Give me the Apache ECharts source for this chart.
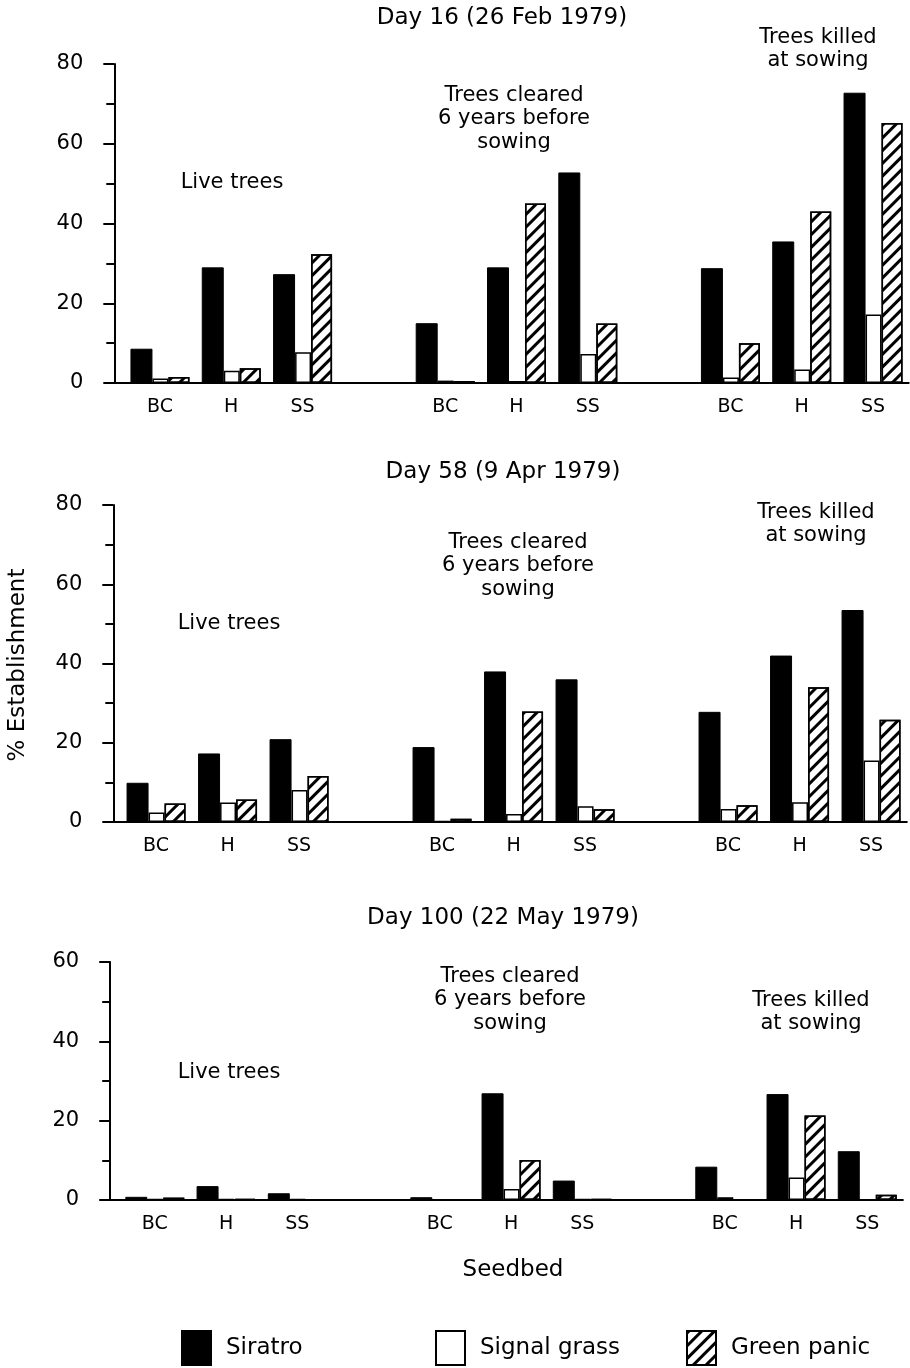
<!DOCTYPE html>
<html>
<head>
<meta charset="utf-8">
<title>% Establishment by seedbed</title>
<script src="https://cdn.jsdelivr.net/npm/echarts@6/dist/echarts.min.js"></script>
<style>
  html, body { margin: 0; padding: 0; background: #fff; }
  #chart { width: 910px; height: 1368px; }
</style>
</head>
<body>
<div id="chart"></div>
<script>
// seedbed categories; the empty slots separate the three tree treatments
const seedbeds = ["BC", "H", "SS", "", "BC", "H", "SS", "", "BC", "H", "SS"];
const speciesNames = ["Siratro", "Signal grass", "Green panic"];
const panelTitles = ["Day 16 (26 Feb 1979)", "Day 58 (9 Apr 1979)", "Day 100 (22 May 1979)"];
const yMax = [80, 80, 60];

// Day 16
const siratroDay16 = [8.6, 29, 27.3, null, 15, 29, 52.8, null, 28.8, 35.5, 72.8];
const signalDay16 = [1.1, 3.1, 7.7, null, 0.6, 0.5, 7.3, null, 1.4, 3.4, 17.2];
const greenDay16 = [1.5, 3.7, 32.3, null, 0.5, 45, 14.9, null, 10, 43, 65.2];

// Day 58
const siratroDay58 = [9.9, 17.3, 20.9, null, 18.9, 38, 36, null, 27.8, 42, 53.5];
const signalDay58 = [2.4, 4.9, 8.1, null, 0.3, 2, 4, null, 3.3, 5, 15.5];
const greenDay58 = [4.7, 5.7, 11.6, null, 0.8, 27.9, 3.2, null, 4.2, 34, 25.8];

// Day 100
const siratroDay100 = [0.8, 3.5, 1.7, null, 0.7, 26.9, 4.9, null, 8.4, 26.7, 12.3];
const signalDay100 = [0.3, 0.3, 0.2, null, 0, 2.8, 0.2, null, 0.7, 5.7, 0];
const greenDay100 = [0.6, 0.3, 0.1, null, 0, 10.1, 0.2, null, 0, 21.3, 1.3];

const panelData = [
  [siratroDay16, signalDay16, greenDay16],
  [siratroDay58, signalDay58, greenDay58],
  [siratroDay100, signalDay100, greenDay100],
];

const FONT = "DejaVu Sans";
const INK = "#000";

// pixel layout of the three panels
const panelGrids = [
  { left: 124.3, width: 784.4, top: 64, height: 319, axisOffset: 10 },
  { left: 120.3, width: 786.5, top: 505, height: 317, axisOffset: 7 },
  { left: 119.2, width: 783.7, top: 962, height: 238, axisOffset: 9 },
];

const hatch = {
  symbol: "rect",
  symbolSize: 1,
  dashArrayX: [1, 0],
  dashArrayY: [2.5, 5.5],
  rotation: -Math.PI / 4,
  color: INK,
};

const speciesStyles = [
  { barWidth: 22, itemStyle: { color: INK, borderColor: INK, borderWidth: 1 } },
  { barWidth: 16, itemStyle: { color: "#fff", borderColor: INK, borderWidth: 1.5 } },
  { barWidth: 21, itemStyle: { color: "#fff", borderColor: INK, borderWidth: 1.5, decal: hatch } },
];

const grid = [];
const xAxis = [];
const yAxis = [];
const series = [];

panelGrids.forEach((g, p) => {
  grid.push({
    left: g.left,
    width: g.width,
    top: g.top,
    height: g.height,
    containLabel: false,
    outerBoundsMode: "none",
  });
  // the baseline runs on to the y axis, which sits left of the first band
  const stub = g.axisOffset + 2;
  xAxis.push({
    type: "category",
    gridIndex: p,
    data: seedbeds,
    axisLine: {
      lineStyle: { color: INK, width: 2 },
      symbol: ["rect", "none"],
      symbolSize: [2, stub],
      symbolOffset: [-stub / 2, 0],
    },
    axisTick: { show: false },
    axisLabel: { color: INK, fontFamily: FONT, fontSize: 19, margin: 15, interval: 0 },
    splitLine: { show: false },
  });
  yAxis.push({
    type: "value",
    gridIndex: p,
    min: 0,
    max: yMax[p],
    interval: 20,
    offset: g.axisOffset,
    axisLine: { show: true, lineStyle: { color: INK, width: 2 } },
    axisTick: { show: true, length: 11, lineStyle: { color: INK, width: 2 } },
    minorTick: { show: true, splitNumber: 2, length: 8, lineStyle: { color: INK, width: 2 } },
    axisLabel: { color: INK, fontFamily: FONT, fontSize: 21, margin: 31 },
    splitLine: { show: false },
  });
  panelData[p].forEach((values, s) => {
    series.push({
      name: speciesNames[s],
      type: "bar",
      xAxisIndex: p,
      yAxisIndex: p,
      data: values,
      barWidth: speciesStyles[s].barWidth,
      barGap: "0%",
      itemStyle: speciesStyles[s].itemStyle,
      emphasis: { disabled: true },
    });
  });
});

function label(text, x, y, size, extra) {
  return Object.assign({
    type: "text",
    x: x,
    y: y,
    style: {
      text: text,
      font: size + "px '" + FONT + "'",
      fill: INK,
      align: "center",
      verticalAlign: "middle",
      lineHeight: 23.5,
    },
  }, extra || {});
}

const graphic = [
  label(panelTitles[0], 502, 18, 23),
  label(panelTitles[1], 503, 472, 23),
  label(panelTitles[2], 503, 918, 23),
  label("Live trees", 232, 183, 21),
  label("Live trees", 229, 624, 21),
  label("Live trees", 229, 1073, 21),
  label("Trees cleared\n6 years before\nsowing", 514, 119, 21),
  label("Trees cleared\n6 years before\nsowing", 518, 566, 21),
  label("Trees cleared\n6 years before\nsowing", 510, 1000, 21),
  label("Trees killed\nat sowing", 818, 49, 21),
  label("Trees killed\nat sowing", 816, 524, 21),
  label("Trees killed\nat sowing", 811, 1012, 21),
  label("Seedbed", 513, 1270, 23),
  label("% Establishment", 18, 665, 23, { rotation: Math.PI / 2 }),
];

function legendFor(name, left) {
  return {
    data: [name],
    left: left,
    top: 1325,
    icon: "rect",
    itemWidth: 29,
    itemHeight: 34,
    selectedMode: false,
    textStyle: { color: INK, fontFamily: FONT, fontSize: 23, padding: [0, 0, 0, 10] },
  };
}

const chart = echarts.init(document.getElementById("chart"), null, { renderer: "canvas" });
chart.setOption({
  backgroundColor: "#fff",
  animation: false,
  textStyle: { fontFamily: FONT },
  legend: [
    legendFor("Siratro", 176),
    legendFor("Signal grass", 430),
    legendFor("Green panic", 681),
  ],
  grid: grid,
  xAxis: xAxis,
  yAxis: yAxis,
  series: series,
  graphic: graphic,
});
</script>
</body>
</html>
